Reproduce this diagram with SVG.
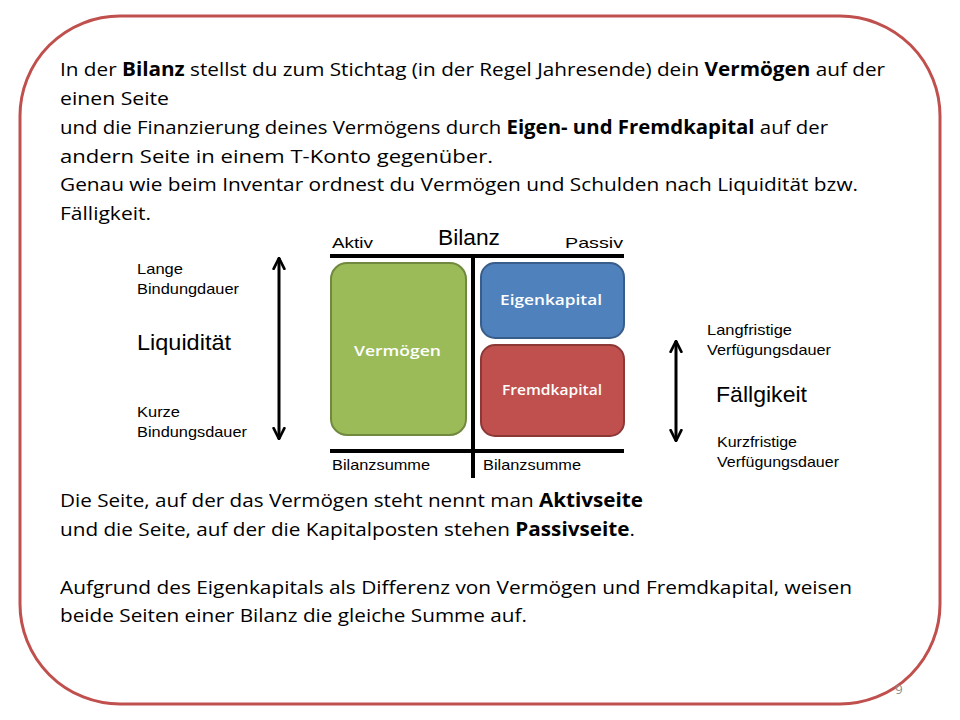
<svg xmlns="http://www.w3.org/2000/svg" width="960" height="720" viewBox="0 0 960 720">
<style>
.body{font-family:"Open Sans","Noto Sans",sans-serif;font-size:19px;fill:#000}
.b{font-weight:bold}
.ar{font-family:"Liberation Sans",Arial,sans-serif;fill:#000}
.sm{font-size:15px}
.lg{font-size:22px}
.lbl{font-family:"Open Sans","Noto Sans",sans-serif;font-size:15px;font-weight:600;fill:#fff}
.ln{stroke:#000;stroke-width:4;fill:none}
.arrow{stroke:#000;stroke-width:3;fill:none;marker-start:url(#ah);marker-end:url(#ah)}
</style>
<defs>
<marker id="ah" viewBox="0 0 10 10" refX="9" refY="5" markerWidth="4.5" markerHeight="4.5" orient="auto-start-reverse" markerUnits="strokeWidth">
<path d="M1,1 L9,5 L1,9" fill="none" stroke="#000" stroke-width="2" stroke-linecap="round" stroke-linejoin="round"/>
</marker>
</defs>
<rect width="960" height="720" fill="#fff"/>
<rect x="20" y="16" width="920" height="688" rx="100" ry="100" fill="#fff" stroke="#c0504d" stroke-width="3"/>
<g id="text-top" class="body">
<text x="60" y="76" textLength="825" lengthAdjust="spacingAndGlyphs">In der <tspan class="b">Bilanz</tspan> stellst du zum Stichtag (in der Regel Jahresende) dein <tspan class="b">Vermögen</tspan> auf der</text>
<text x="60" y="105" textLength="109" lengthAdjust="spacingAndGlyphs">einen Seite</text>
<text x="60" y="134" textLength="768" lengthAdjust="spacingAndGlyphs">und die Finanzierung deines Vermögens durch <tspan class="b">Eigen- und Fremdkapital</tspan> auf der</text>
<text x="60" y="163" textLength="433" lengthAdjust="spacingAndGlyphs">andern Seite in einem T-Konto gegenüber.</text>
<text x="60" y="191" textLength="798" lengthAdjust="spacingAndGlyphs">Genau wie beim Inventar ordnest du Vermögen und Schulden nach Liquidität bzw.</text>
<text x="60" y="220" textLength="91" lengthAdjust="spacingAndGlyphs">Fälligkeit.</text>
</g>
<g id="text-bottom" class="body">
<text x="60" y="507" textLength="583" lengthAdjust="spacingAndGlyphs">Die Seite, auf der das Vermögen steht nennt man <tspan class="b">Aktivseite</tspan></text>
<text x="60" y="536" textLength="575" lengthAdjust="spacingAndGlyphs">und die Seite, auf der die Kapitalposten stehen <tspan class="b">Passivseite</tspan>.</text>
<text x="60" y="594" textLength="792" lengthAdjust="spacingAndGlyphs">Aufgrund des Eigenkapitals als Differenz von Vermögen und Fremdkapital, weisen</text>
<text x="60" y="622" textLength="467" lengthAdjust="spacingAndGlyphs">beide Seiten einer Bilanz die gleiche Summe auf.</text>
</g>
<g id="t-konto">
<text class="ar sm" x="332" y="248" textLength="41" lengthAdjust="spacingAndGlyphs">Aktiv</text>
<text class="ar lg" x="438" y="245" textLength="62" lengthAdjust="spacingAndGlyphs">Bilanz</text>
<text class="ar sm" x="565" y="248" textLength="58" lengthAdjust="spacingAndGlyphs">Passiv</text>
<line class="ln" x1="330" y1="256" x2="624" y2="256"/>
<line class="ln" x1="473" y1="256" x2="473" y2="478"/>
<line class="ln" x1="330" y1="451" x2="624" y2="451"/>
<text class="ar sm" x="332" y="470" textLength="98" lengthAdjust="spacingAndGlyphs">Bilanzsumme</text>
<text class="ar sm" x="483" y="470" textLength="98" lengthAdjust="spacingAndGlyphs">Bilanzsumme</text>
</g>
<g id="vermoegen">
<rect x="331" y="263" width="135" height="172" rx="16" fill="#9bbb59" stroke="#71893f" stroke-width="2"/>
<text class="lbl" x="354" y="356" textLength="87" lengthAdjust="spacingAndGlyphs">Vermögen</text>
</g>
<g id="eigenkapital">
<rect x="481" y="263" width="143" height="75" rx="14" fill="#4f81bd" stroke="#385d8a" stroke-width="2"/>
<text class="lbl" x="500" y="305" textLength="102" lengthAdjust="spacingAndGlyphs">Eigenkapital</text>
</g>
<g id="fremdkapital">
<rect x="481" y="345" width="143" height="91" rx="14" fill="#c0504d" stroke="#8c3836" stroke-width="2"/>
<text class="lbl" x="502" y="395" textLength="100" lengthAdjust="spacingAndGlyphs">Fremdkapital</text>
</g>
<g id="liquiditaet">
<text class="ar sm" x="137" y="274" textLength="46" lengthAdjust="spacingAndGlyphs">Lange</text>
<text class="ar sm" x="137" y="294" textLength="102" lengthAdjust="spacingAndGlyphs">Bindungdauer</text>
<text class="ar lg" x="137" y="350" textLength="94" lengthAdjust="spacingAndGlyphs">Liquidität</text>
<text class="ar sm" x="137" y="417" textLength="43" lengthAdjust="spacingAndGlyphs">Kurze</text>
<text class="ar sm" x="137" y="437" textLength="110" lengthAdjust="spacingAndGlyphs">Bindungsdauer</text>
</g>
<g id="faelligkeit">
<text class="ar sm" x="707" y="335" textLength="85" lengthAdjust="spacingAndGlyphs">Langfristige</text>
<text class="ar sm" x="707" y="355" textLength="124" lengthAdjust="spacingAndGlyphs">Verfügungsdauer</text>
<text class="ar lg" x="716" y="402" textLength="91" lengthAdjust="spacingAndGlyphs">Fällgikeit</text>
<text class="ar sm" x="717" y="447" textLength="80" lengthAdjust="spacingAndGlyphs">Kurzfristige</text>
<text class="ar sm" x="717" y="467" textLength="122" lengthAdjust="spacingAndGlyphs">Verfügungsdauer</text>
</g>
<g id="connectors">
<line class="arrow" x1="279" y1="258" x2="279" y2="439"/>
<line class="arrow" x1="676" y1="341" x2="676" y2="441"/>
</g>
<text x="899" y="694" font-family="'Open Sans',sans-serif" font-size="13" fill="#8c8c8c" text-anchor="middle">9</text>
</svg>
